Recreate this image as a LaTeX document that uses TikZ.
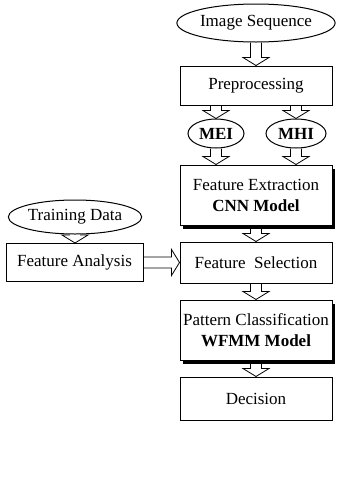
\documentclass[tikz,border=0pt]{standalone}
\usepackage{fontspec}
\setmainfont{Liberation Serif}
\usetikzlibrary{shapes.geometric,calc}

\tikzset{
  txt/.style={font=\fontsize{17}{20}\selectfont, align=center, inner sep=0pt},
  box/.style={txt, draw, line width=1pt, fill=white, minimum width=152pt},
  oval/.style={txt, ellipse, draw, line width=1pt, fill=white},
  shadowed/.style={preaction={fill=black, transform canvas={xshift=2.5pt,yshift=-3.5pt}}},
  % hollow block arrow pointing down
  darrow/.style={line width=0.8pt, line join=miter, to path={
    let \p1=(\tikztostart), \p2=(\tikztotarget) in
    (\x1-5.5pt,\y1) -- (\x1-5.5pt,\y2+8pt) -- (\x1-13pt,\y2+8pt) -- (\x1,\y2)
    -- (\x1+13pt,\y2+8pt) -- (\x1+5.5pt,\y2+8pt) -- (\x1+5.5pt,\y1)}},
  % hollow block arrow pointing right
  rarrow/.style={line width=0.8pt, line join=miter, to path={
    let \p1=(\tikztostart), \p2=(\tikztotarget) in
    (\x1,\y1+5.5pt) -- (\x2-8pt,\y1+5.5pt) -- (\x2-8pt,\y1+13pt) -- (\x2,\y1)
    -- (\x2-8pt,\y1-13pt) -- (\x2-8pt,\y1-5.5pt) -- (\x1,\y1-5.5pt)}},
}

\begin{document}
\begin{tikzpicture}[x=1pt, y=-1pt]
\useasboundingbox (0,0) rectangle (359,496);

% main column
\node[oval, minimum width=152pt, minimum height=38pt] (img) at (256,23) {Image Sequence};
\node[box, minimum height=39pt] (pre) at (256,85.5) {Preprocessing};
\node[oval, minimum width=56pt, minimum height=29pt] (mei) at (216,133.5) {\bfseries MEI};
\node[oval, minimum width=60pt, minimum height=29pt] (mhi) at (296,133.5) {\bfseries MHI};
\node[box, shadowed, minimum height=60pt] (fe) at (256,195)
  {Feature Extraction\\[1pt]\bfseries CNN Model};
\node[box, minimum height=41pt] (fs) at (256,262.5) {Feature\hspace{0.5em}Selection};
\node[box, shadowed, minimum height=60pt] (pc) at (256,330)
  {Pattern Classification\\[1pt]\bfseries WFMM Model};
\node[box, minimum height=43pt] (dec) at (256,398.5) {Decision};

% side branch
\node[oval, minimum width=122pt, minimum height=34pt] (tr) at (75,217) {Training Data};
\node[box, minimum width=137pt, minimum height=38pt] (fa) at (74.5,262.5) {Feature Analysis};

% connectors
\draw[darrow] (img.south) to (pre.north);
\draw[darrow] (pre.south -| mei.north) to (mei.north);
\draw[darrow] (pre.south -| mhi.north) to (mhi.north);
\draw[darrow] (mei.south) to (mei.south |- fe.north);
\draw[darrow] (mhi.south) to (mhi.south |- fe.north);
\draw[darrow] ([yshift=-3.5pt]fe.south) to (fs.north);
\draw[darrow] (fs.south) to (pc.north);
\draw[darrow] ([yshift=-3.5pt]pc.south) to (dec.north);
\draw[darrow] (tr.south) to (fa.north);
\draw[rarrow] (fa.east) to (fa.east -| fs.west);
\end{tikzpicture}
\end{document}
